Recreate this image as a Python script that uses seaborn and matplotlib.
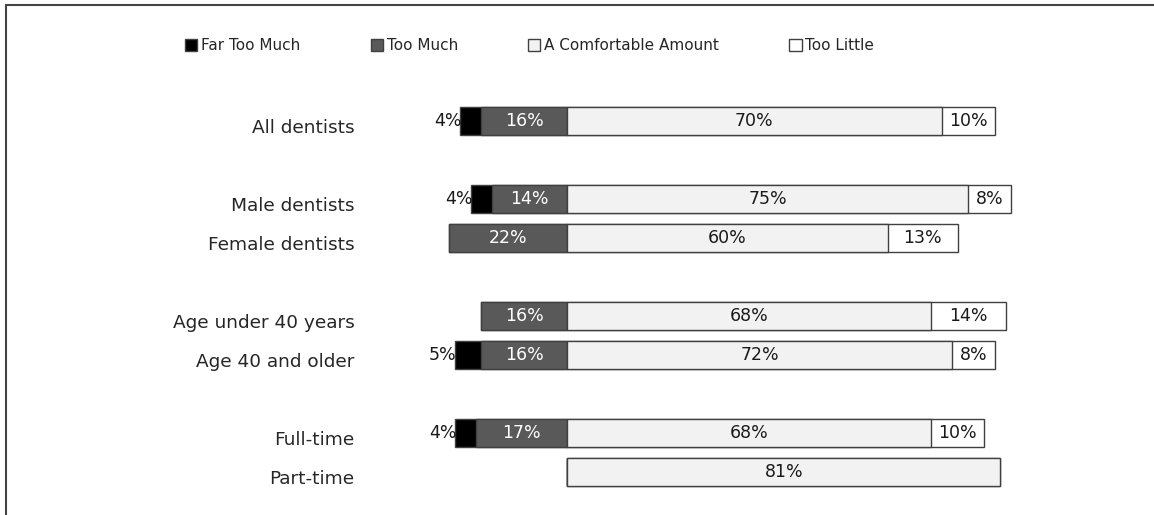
import pandas as pd
import numpy as np
import seaborn as sns
import matplotlib.pyplot as plt
from matplotlib.patches import Patch
from matplotlib.lines import Line2D
import matplotlib.transforms as mtransforms

# === Dados ===
groups = ["All dentists", "Male dentists", "Female dentists",
          "Age under 40 years", "Age 40 and older", "Full-time", "Part-time"]
far_too_much = [4, 4, 0, 0, 5, 4, 0]
too_much = [16, 14, 22, 16, 16, 17, 0]
comfortable = [70, 75, 60, 68, 72, 68, 81]
too_little = [10, 8, 13, 14, 8, 10, 0]
legend_labels = ["Far Too Much", "Too Much", "A Comfortable Amount", "Too Little"]

# === Layout (empty slots between groups) ===
order = [groups[0], "_g1", groups[1], groups[2], "_g2",
         groups[3], groups[4], "_g3", groups[5], groups[6]]

df = pd.DataFrame({
    "group": groups,
    "ftm": far_too_much,
    "tm": too_much,
    "comf": comfortable,
    "tl": too_little,
})
df["left_outer"] = -(df["ftm"] + df["tm"])
df["left_inner"] = -df["tm"]
df["right_outer"] = df["comf"] + df["tl"]
df["right_inner"] = df["comf"]

sns.set_theme(style="white")
plt.rcParams["font.family"] = ["DejaVu Sans"]

colors = ["#000000", "#595959", "#f2f2f2", "#ffffff"]
edge = "#404040"

fig = plt.figure(figsize=(11.54, 5.15), dpi=100)
ax = fig.add_axes([370 / 1154, 10 / 515, 730 / 1154, 425 / 515])

common = dict(y="group", order=order, orient="h", errorbar=None, width=0.72,
              saturation=1, edgecolor=edge, linewidth=1, ax=ax)
sns.barplot(data=df, x="left_outer", color=colors[0], **common)
sns.barplot(data=df, x="left_inner", color=colors[1], **common)
sns.barplot(data=df, x="right_outer", color=colors[3], **common)
sns.barplot(data=df, x="right_inner", color=colors[2], **common)

# === Rótulos ===
fs = 12.5
for _, r in df.iterrows():
    y = order.index(r["group"])
    if r["ftm"] > 0:
        ax.text(-(r["ftm"] + r["tm"]) + 0.4, y, f"{r['ftm']}%", ha="right", va="center",
                fontsize=fs, color="#1a1a1a")
    if r["tm"] > 0:
        ax.text(-r["tm"] / 2, y, f"{r['tm']}%", ha="center", va="center",
                fontsize=fs, color="white")
    ax.text(r["comf"] / 2, y, f"{r['comf']}%", ha="center", va="center",
            fontsize=fs, color="#1a1a1a")
    if r["tl"] > 0:
        ax.text(r["comf"] + r["tl"] / 2, y, f"{r['tl']}%", ha="center", va="center",
                fontsize=fs, color="#1a1a1a")

ax.set_xlim(-36.8, 99.6)
ax.set_ylim(9.85, -1.05)
ax.set_xticks([])
ax.set_yticks([order.index(g) for g in groups])
ax.set_yticklabels(groups, fontsize=13.3, color="#262626")
ax.tick_params(axis="y", length=0, pad=11)
offset = mtransforms.ScaledTranslation(0, -4 / 72, fig.dpi_scale_trans)
for lbl in ax.get_yticklabels():
    lbl.set_transform(lbl.get_transform() + offset)
ax.set_xlabel("")
ax.set_ylabel("")
for s in ax.spines.values():
    s.set_visible(False)

# === Legenda ===
handles = [Patch(facecolor=c, edgecolor=edge, label=l) for c, l in zip(colors, legend_labels)]
fig.legend(handles=handles, loc="center", bbox_to_anchor=(0.459, 1 - 46 / 515), ncol=4,
           frameon=False, handlelength=0.8, handleheight=0.8, handletextpad=0.25,
           columnspacing=4.6, fontsize=11)

# === Moldura ===
fig.add_artist(Line2D([6 / 1154, 6 / 1154], [0, 1 - 5 / 515], transform=fig.transFigure,
                      color="#444444", lw=1.5))
fig.add_artist(Line2D([6 / 1154, 1], [1 - 5 / 515, 1 - 5 / 515], transform=fig.transFigure,
                      color="#444444", lw=1.5))

fig.savefig("out.png", dpi=100)
